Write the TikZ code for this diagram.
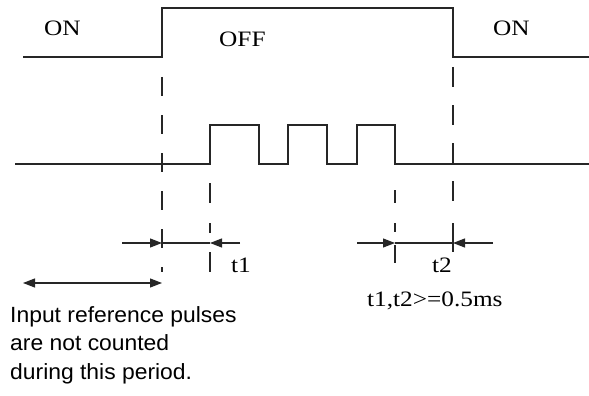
\documentclass[tikz,border=0pt]{standalone}
\usepackage{fontspec}
\setmainfont{Liberation Serif}[FakeStretch=1.15]
\newfontfamily\notesans{Liberation Sans}[FakeStretch=1.04]
\usetikzlibrary{positioning,arrows.meta}

\begin{document}
\begin{tikzpicture}[x=1pt,y=-1pt,font=\fontsize{22}{28}\selectfont]
  % x,y: pixels of the 589x396 sheet, y downwards
  \useasboundingbox (0,0) rectangle (589,396);
  \tikzset{wave/.style={black!85,line width=1.3pt},
           guide/.style={black!85,line width=1.2pt,dash pattern=on 19pt off 19pt},
           dim/.style={black!85,line width=1.2pt,-{Triangle[length=12pt,width=9pt]}},
           lbl/.style={inner sep=0pt,anchor=base west}}
  % enable signal and pulse train
  \draw[wave] (23,57) -- (162,57) -- (162,8) -- (453,8) -- (453,57) -- (589,57);
  \draw[wave] (15,164) -- (210,164) -- (210,125) -- (259,125) -- (259,164)
     -- (288,164) -- (288,125) -- (327,125) -- (327,164)
     -- (357,164) -- (357,125) -- (395,125) -- (395,164) -- (589,164);
  \node[lbl] (onA)  at (44,36)  {ON};
  \node[lbl] (off)  at (219,47) {OFF};
  \node[lbl] (onB)  at (493,36) {ON};
  % guide lines at the OFF edges and at the first/last pulse
  \draw[guide] (162,77) -- (162,272);
  \draw[guide,dash pattern=on 20pt off 18pt on 20pt off 18pt on 20pt off 18pt
               on 20pt off 22pt on 29pt] (453,67) -- (453,252);
  \draw[guide,dash pattern=on 20pt off 20pt on 10pt off 19pt on 20pt] (210,183) -- (210,272);
  \draw[guide,dash pattern=on 13pt off 20pt on 9pt off 13pt on 18pt] (395,190) -- (395,263);
  % dimension points
  \coordinate (offS) at (162,243);
  \coordinate (firstP) at (210,243);
  \coordinate (lastP) at (395,243);
  \coordinate (offE) at (453,243);
  \coordinate (t1in) at (122,243);
  \coordinate (t1out) at (240,243);
  \coordinate (t2in) at (357,243);
  \coordinate (t2out) at (493,243);
  \coordinate (perA) at (23,283);
  \coordinate (perB) at (162,283);
  \draw[dim] (t1in) -- (offS);
  \draw[dim] (t1out) -- (firstP);
  \draw[black!85,line width=1.2pt] (offS) -- (firstP);
  \draw[dim] (t2in) -- (lastP);
  \draw[dim] (t2out) -- (offE);
  \draw[black!85,line width=1.2pt] (lastP) -- (offE);
  \draw[dim,{Triangle[length=12pt,width=9pt]}-{Triangle[length=12pt,width=9pt]}] (perA) -- (perB);
  \node[lbl] (tone) at (231,272) {t1};
  \node[lbl] (ttwo) at (432,272) {t2};
  \node[lbl] (cond) at (367,306) {t1,t2>=0.5ms};
  \node[lbl,anchor=north west,align=left,font=\notesans\fontsize{22}{28.5}\selectfont]
    (note) at (10,306) {Input reference pulses\\are not counted\\during this period.};
\end{tikzpicture}
\end{document}
